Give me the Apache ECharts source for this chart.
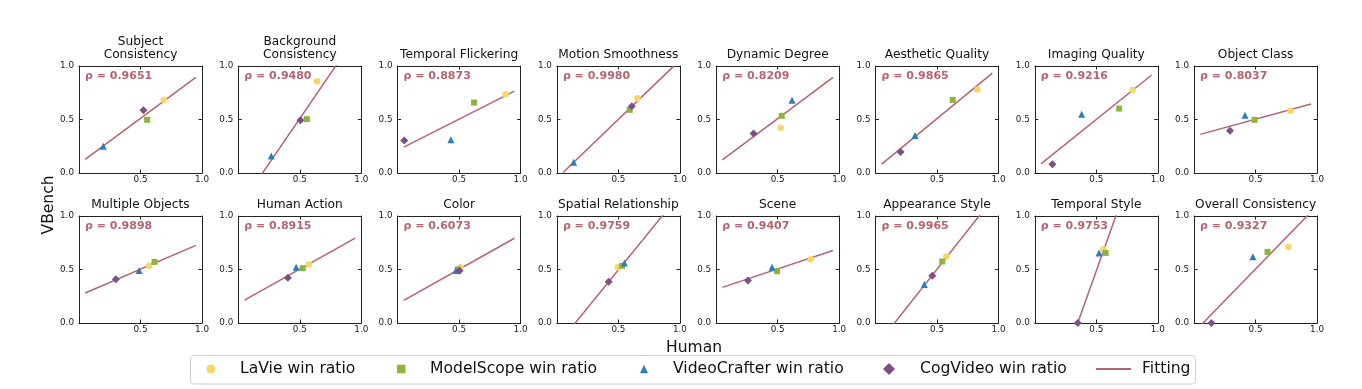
<!DOCTYPE html>
<html><head><meta charset="utf-8">
<script src="https://cdn.jsdelivr.net/npm/echarts@6/dist/echarts.min.js"></script>
<style>html,body{margin:0;padding:0;background:#fff}#c{width:1362px;height:389px}</style>
</head><body><div id="c"></div>
<script>
// ---------- data ----------
const titles = ["Subject\nConsistency", "Background\nConsistency", "Temporal Flickering", "Motion Smoothness",
  "Dynamic Degree", "Aesthetic Quality", "Imaging Quality", "Object Class",
  "Multiple Objects", "Human Action", "Color", "Spatial Relationship",
  "Scene", "Appearance Style", "Temporal Style", "Overall Consistency"];
const rhos = ["0.9651", "0.9480", "0.8873", "0.9980", "0.8209", "0.9865", "0.9216", "0.8037",
  "0.9898", "0.8915", "0.6073", "0.9759", "0.9407", "0.9965", "0.9753", "0.9327"];
const seriesNames = ["LaVie win ratio", "ModelScope win ratio", "VideoCrafter win ratio", "CogVideo win ratio"];
const lavieX = [0.689, 0.641, 0.877, 0.655, 0.524, 0.829, 0.795, 0.784, 0.570, 0.573, 0.510, 0.495, 0.769, 0.576, 0.557, 0.768];
const lavieY = [0.683, 0.857, 0.736, 0.699, 0.422, 0.780, 0.776, 0.581, 0.534, 0.547, 0.520, 0.522, 0.596, 0.621, 0.689, 0.711];
const modelscopeX = [0.554, 0.557, 0.621, 0.592, 0.533, 0.628, 0.686, 0.492, 0.614, 0.524, 0.490, 0.530, 0.495, 0.543, 0.576, 0.597];
const modelscopeY = [0.497, 0.503, 0.658, 0.590, 0.534, 0.683, 0.602, 0.497, 0.571, 0.512, 0.500, 0.534, 0.484, 0.575, 0.655, 0.665];
const videocrafterX = [0.197, 0.268, 0.433, 0.136, 0.617, 0.321, 0.381, 0.414, 0.489, 0.470, 0.474, 0.549, 0.454, 0.397, 0.522, 0.478];
const videocrafterY = [0.250, 0.160, 0.310, 0.100, 0.680, 0.350, 0.550, 0.540, 0.490, 0.520, 0.490, 0.560, 0.520, 0.360, 0.655, 0.620];
const cogvideoX = [0.524, 0.505, 0.054, 0.609, 0.304, 0.204, 0.143, 0.292, 0.300, 0.403, 0.504, 0.421, 0.258, 0.462, 0.349, 0.141];
const cogvideoY = [0.587, 0.494, 0.304, 0.624, 0.370, 0.196, 0.081, 0.394, 0.410, 0.422, 0.488, 0.385, 0.398, 0.441, 0.000, 0.000];
const fitX = [0.05, 0.95];
const fitYStart = [0.127, -0.247, 0.242, 0.004, 0.123, 0.083, 0.085, 0.361, 0.280, 0.214, 0.211, -0.140, 0.333, -0.153, -0.965, -0.027];
const fitYEnd = [0.894, 1.265, 0.765, 0.999, 0.893, 0.933, 0.916, 0.645, 0.726, 0.794, 0.792, 1.133, 0.677, 1.157, 1.939, 1.037];
const xTicks = [0, 0.5, 1.0];

// ---------- style ----------
const FONT = "'DejaVu Sans', sans-serif";
const COLORS = ["#f8d56b", "#8cb43f", "#2d7cbc", "#7d4f86"];
const SYMBOLS = ["circle", "rect", "triangle", "diamond"];
const SIZES = [6.5, 6, 7, 8];
const FIT_COLOR = "#b5646e";
const AX = "#222";
const GL0 = 79, GSTEP = 159.3, GW = 123, GH = 107, ROWTOP = [66, 216];

const xs = [lavieX, modelscopeX, videocrafterX, cogvideoX];
const ys = [lavieY, modelscopeY, videocrafterY, cogvideoY];

const grid = [], xAxis = [], yAxis = [], series = [], graphic = [];
const fmt = v => v.toFixed(1);

for (let i = 0; i < 16; i++) {
  const r = Math.floor(i / 8), c = i % 8;
  const left = GL0 + c * GSTEP, top = ROWTOP[r];
  grid.push({left: left, top: top, width: GW, height: GH, outerBoundsMode: 'none', containLabel: false});
  const baseAxis = {
    gridIndex: i, type: 'value', min: xTicks[0], max: xTicks[2], interval: xTicks[1] - xTicks[0],
    axisLine: {show: true, onZero: false, lineStyle: {color: AX, width: 1}},
    axisTick: {show: true, inside: true, length: 3.5, lineStyle: {color: AX, width: 1}},
    splitLine: {show: false}
  };
  xAxis.push(Object.assign({}, baseAxis, {position: 'bottom',
    axisLabel: {show: true, showMinLabel: false, margin: 2, fontSize: 8.8, color: AX, fontFamily: FONT, formatter: fmt}}));
  xAxis.push(Object.assign({}, baseAxis, {position: 'top', axisLabel: {show: false}}));
  yAxis.push(Object.assign({}, baseAxis, {position: 'left',
    axisLabel: {show: true, margin: 5, fontSize: 8.8, color: AX, fontFamily: FONT, formatter: fmt}}));
  yAxis.push(Object.assign({}, baseAxis, {position: 'right', axisLabel: {show: false}}));

  series.push({
    type: 'line', name: 'Fitting', xAxisIndex: 2 * i, yAxisIndex: 2 * i,
    data: [[fitX[0], fitYStart[i]], [fitX[1], fitYEnd[i]]],
    symbol: 'none', showSymbol: false, clip: true, z: 1, silent: true,
    lineStyle: {color: FIT_COLOR, width: 1.5}, itemStyle: {color: FIT_COLOR}
  });
  for (let s = 0; s < 4; s++) {
    series.push({
      type: 'scatter', name: seriesNames[s], xAxisIndex: 2 * i, yAxisIndex: 2 * i,
      data: [[xs[s][i], ys[s][i]]], symbol: SYMBOLS[s], symbolSize: SIZES[s],
      itemStyle: {color: COLORS[s], opacity: 1}, z: 3, silent: true, clip: false
    });
  }

  // titles
  const cx = left + GW / 2;
  const lines = titles[i].split("\n");
  lines.forEach((t, k) => {
    graphic.push({type: 'text', x: cx, y: top - 11 - (lines.length - 1 - k) * 13,
      style: {text: t, font: "12.2px " + FONT, fill: '#111', align: 'center', verticalAlign: 'middle'}});
  });
  // rho
  graphic.push({type: 'text', x: left + 6, y: top + 10.5,
    style: {text: 'ρ = ' + rhos[i], font: "bold 11px " + FONT, fill: FIT_COLOR, align: 'left', verticalAlign: 'middle'}});
}

// axis titles
graphic.push({type: 'text', x: 48.5, y: 205, rotation: Math.PI / 2,
  style: {text: 'VBench', font: "15.5px " + FONT, fill: '#111', align: 'center', verticalAlign: 'middle'}});
graphic.push({type: 'text', x: 694, y: 348,
  style: {text: 'Human', font: "15.5px " + FONT, fill: '#111', align: 'center', verticalAlign: 'middle'}});
// legend frame
graphic.push({type: 'rect', shape: {x: 190.5, y: 355.5, width: 1005, height: 28.5, r: 3},
  style: {fill: 'none', stroke: '#cfcfcf', lineWidth: 1}, z: 0});

const legTxt = {fontSize: 15.6, color: '#111', fontFamily: FONT};
const legendDefs = [
  {name: seriesNames[0], icon: 'circle', left: 206.5, w: 9, h: 9, pad: 19.5},
  {name: seriesNames[1], icon: 'rect', left: 397, w: 8.5, h: 8.5, pad: 19.5},
  {name: seriesNames[2], icon: 'triangle', left: 640, w: 8, h: 8.5, pad: 20},
  {name: seriesNames[3], icon: 'diamond', left: 883, w: 12, h: 12, pad: 20},
  {name: 'Fitting', icon: 'rect', left: 1096, w: 35, h: 1.8, pad: 6},
];
const legend = legendDefs.map(d => ({
  data: [{name: d.name, icon: d.icon}], left: d.left, top: 361, itemWidth: d.w, itemHeight: d.h, padding: 0,
  selectedMode: false, orient: 'horizontal', symbolKeepAspect: false,
  textStyle: Object.assign({}, legTxt, {padding: [0, 0, 0, d.pad]})
}));

const chart = echarts.init(document.getElementById('c'), null, {renderer: 'canvas'});
chart.setOption({
  animation: false, backgroundColor: '#fff',
  grid, xAxis, yAxis, series, legend, graphic
});
</script></body></html>
